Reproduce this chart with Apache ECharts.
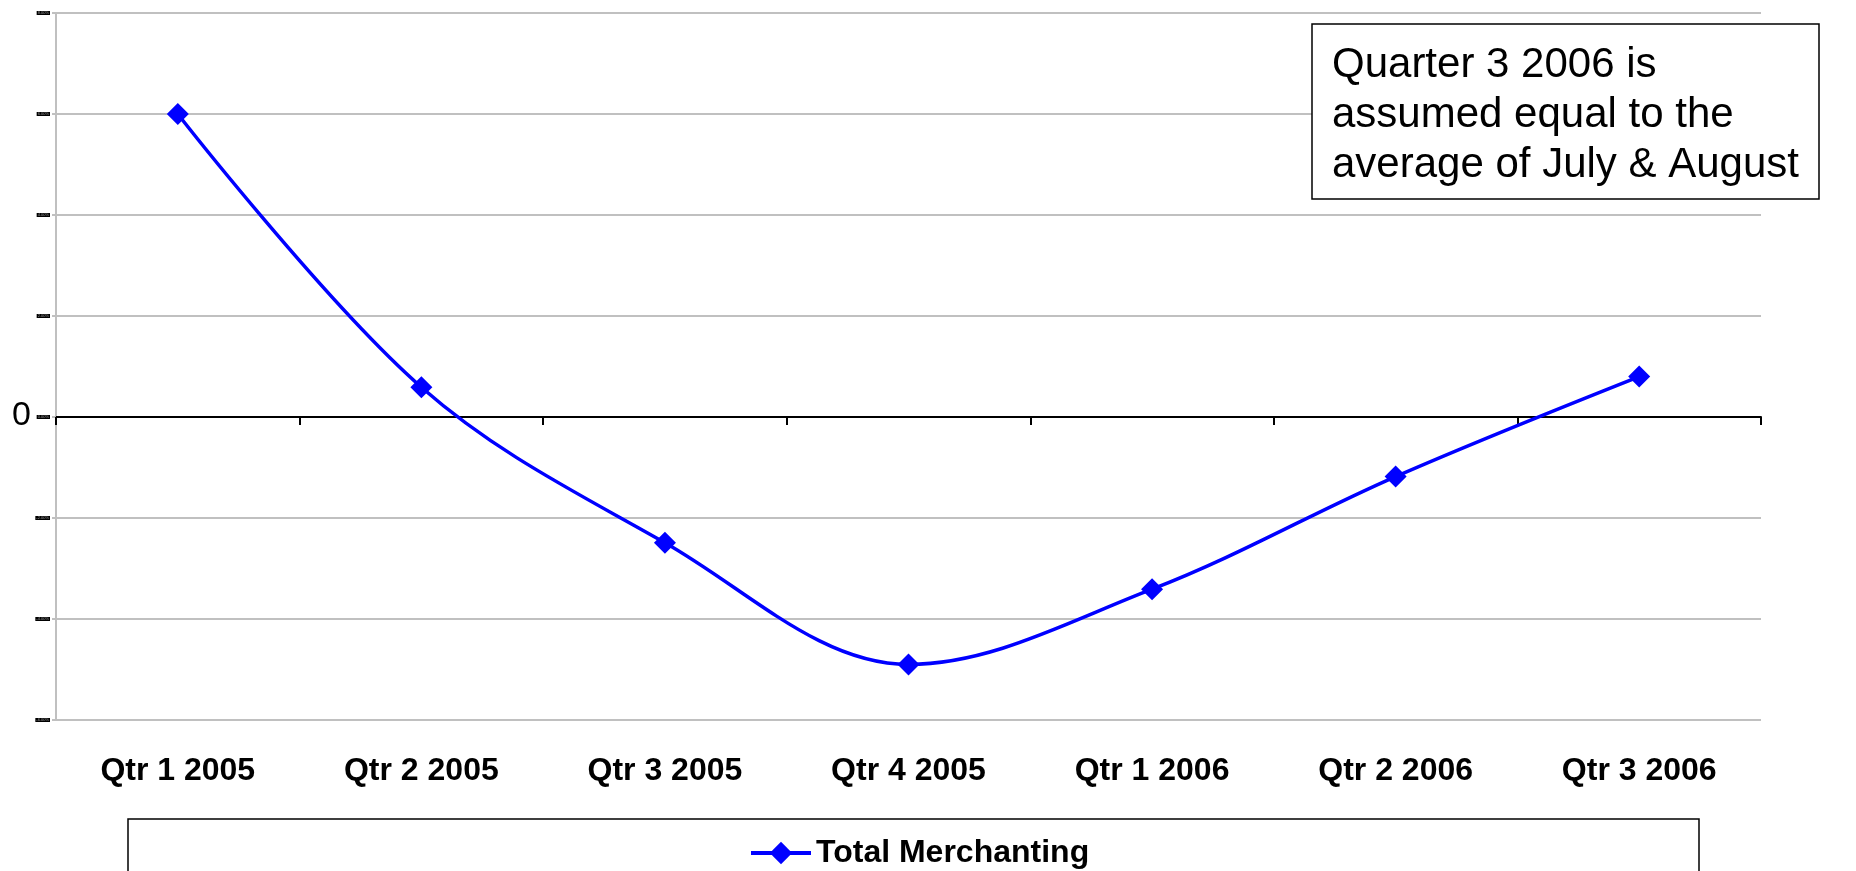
<!DOCTYPE html>
<html>
<head>
<meta charset="utf-8">
<script src="https://cdn.jsdelivr.net/npm/echarts@6/dist/echarts.min.js"></script>
<style>
  html, body { margin: 0; padding: 0; background: #fff; }
  #chart { width: 1856px; height: 871px; }
</style>
</head>
<body>
<div id="chart"></div>
<script>
// Quarterly change for Total Merchanting, in percent
const quarters = ['Qtr 1 2005', 'Qtr 2 2005', 'Qtr 3 2005', 'Qtr 4 2005', 'Qtr 1 2006', 'Qtr 2 2006', 'Qtr 3 2006'];
const totalMerchanting = [6.0, 0.59, -2.49, -4.9, -3.41, -1.18, 0.8];
const seriesName = 'Total Merchanting';
const noteLines = ['Quarter 3 2006 is', 'assumed equal to the', 'average of July & August'];

const FONT = '"Liberation Sans", Arial, sans-serif';
const chart = echarts.init(document.getElementById('chart'));

chart.setOption({
  backgroundColor: '#ffffff',
  animation: false,
  grid: { left: 56, right: 95, top: 13, bottom: 151 },
  legend: {
    data: [seriesName],
    left: 744,
    top: 832,
    itemWidth: 60,
    itemHeight: 28,
    itemGap: 4,
    lineStyle: { width: 4 },
    textStyle: { fontFamily: FONT, fontSize: 32, fontWeight: 'bold', color: '#000' }
  },
  xAxis: [
    {
      type: 'category',
      data: quarters,
      boundaryGap: true,
      axisLine: { onZero: true, lineStyle: { color: '#000', width: 2 } },
      axisTick: { show: true, length: 8, lineStyle: { color: '#000', width: 2 } },
      axisLabel: { show: false },
      splitLine: { show: false }
    },
    {
      type: 'category',
      data: quarters,
      position: 'bottom',
      boundaryGap: true,
      axisLine: { show: false },
      axisTick: { show: false },
      axisLabel: {
        margin: 35,
        fontFamily: FONT, fontSize: 32, fontWeight: 'bold', color: '#000'
      }
    }
  ],
  yAxis: {
    type: 'value',
    min: -6,
    max: 8,
    interval: 2,
    axisLine: { show: true, lineStyle: { color: '#c0c0c0', width: 2 } },
    axisTick: { show: true, length: 4, lineStyle: { color: '#c0c0c0', width: 2 } },
    splitLine: { lineStyle: { color: '#c0c0c0', width: 2 } },
    axisLabel: {
      margin: 6,
      fontFamily: FONT,
      fontSize: 4,
      color: '#9a9a9a',
      backgroundColor: '#000',
      padding: [0, 1],
      formatter: v => v.toFixed(2) + '%'
    }
  },
  series: [{
    name: seriesName,
    type: 'line',
    xAxisIndex: 0,
    data: totalMerchanting,
    smooth: 0.35,
    symbol: 'diamond',
    symbolSize: 22,
    lineStyle: { color: '#0000ff', width: 3.5 },
    itemStyle: { color: '#0000ff' },
    z: 5
  }],
  graphic: [
    // big zero marker beside the y axis
    {
      type: 'text', left: 12, top: 399,
      style: { text: '0', fontFamily: FONT, fontSize: 34, fill: '#000' }
    },
    // note box
    {
      type: 'rect', shape: { x: 1312, y: 24, width: 507, height: 175 },
      style: { fill: '#fff', stroke: '#000', lineWidth: 1.5 }, z: 10
    },
    {
      type: 'text', left: 1332, top: 40, z: 11,
      style: {
        text: noteLines.join('\n'),
        fontFamily: FONT, fontSize: 42, fill: '#000', lineHeight: 50
      }
    },
    // legend frame
    {
      type: 'rect', shape: { x: 128, y: 819, width: 1571, height: 80 },
      style: { fill: 'none', stroke: '#000', lineWidth: 1.5 }, z: 0
    }
  ]
});
</script>
</body>
</html>
